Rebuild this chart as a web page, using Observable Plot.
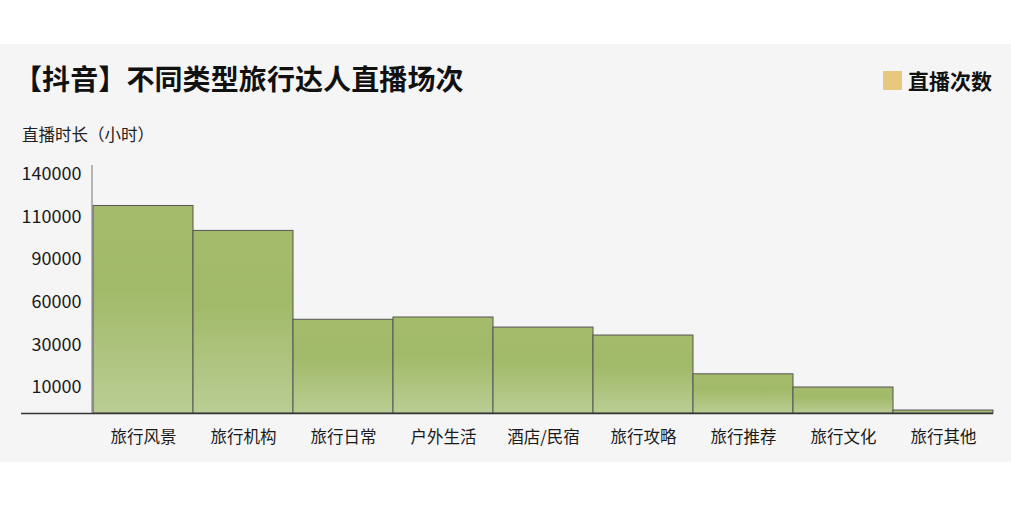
<!DOCTYPE html>
<html><head><meta charset="utf-8">
<script src="https://cdn.jsdelivr.net/npm/d3@7"></script>
<script src="https://cdn.jsdelivr.net/npm/@observablehq/plot@0.6"></script>
<style>
  html,body{margin:0;padding:0;background:#fff;}
  body{font-family:"Noto Sans CJK SC","Noto Sans",sans-serif;}
  #wrap{position:relative;width:1011px;height:505px;overflow:hidden;}
  #bg{position:absolute;left:0;top:44px;width:1011px;height:418px;background:#f5f5f5;}
  #title{position:absolute;left:14px;top:63px;font-size:28px;line-height:30px;font-weight:700;color:#111;white-space:nowrap;letter-spacing:0.1px;}
  #legend{position:absolute;left:883px;top:69px;display:flex;align-items:center;font-size:21px;font-weight:700;color:#111;line-height:22px;white-space:nowrap;}
  #legend .sw{width:19px;height:19px;background:#e8c87e;margin-right:6px;}
  #ylab{position:absolute;left:22px;top:125px;font-size:16.5px;line-height:18px;color:#222;white-space:nowrap;}
  #chart{position:absolute;left:0;top:150px;}
</style>
</head><body>
<div id="wrap">
  <div id="bg"></div>
  <div id="title">【抖音】不同类型旅行达人直播场次</div>
  <div id="legend"><div class="sw"></div><span>直播次数</span></div>
  <div id="ylab">直播时长（小时）</div>
  <div id="chart"></div>
</div>
<script>
const categories = ["旅行风景","旅行机构","旅行日常","户外生活","酒店/民宿","旅行攻略","旅行推荐","旅行文化","旅行其他"];
const values = [117800, 103500, 47700, 49300, 42200, 36600, 16200, 10000, 1150];
const tickValues = [10000, 30000, 60000, 90000, 110000, 140000];
const tickSteps = [0, 0.61, 1.61, 2.61, 3.61, 4.61, 5.61];

// The original axis is evenly spaced with irregular labels: map values piecewise.
const f = d3.scaleLinear().domain([0, ...tickValues]).range(tickSteps);
const data = categories.map((c, i) => ({category: c, value: values[i]}));

const chart = Plot.plot({
  width: 1011,
  height: 312,
  marginLeft: 92,
  marginRight: 18,
  marginTop: 15,
  marginBottom: 49,
  style: {background: "transparent", fontFamily: "'Noto Sans CJK SC', sans-serif", color: "#1a1a1a"},
  x: {type: "band", domain: categories, padding: 0, label: null},
  y: {domain: [0, 5.82], label: null},
  marks: [
    Plot.barY(data, {x: "category", y: d => f(d.value), fill: "url(#barGrad)", stroke: "#555", strokeWidth: 1}),
    Plot.ruleY([0], {stroke: "#333", strokeWidth: 1.5, insetLeft: -71}),
    Plot.axisX({tickSize: 0, tickPadding: 18, fontSize: 16.5, label: null}),
    Plot.axisY({ticks: tickValues.map(f), tickFormat: d => String(Math.round(f.invert(d))), tickSize: 0, tickPadding: 11, fontSize: 18, label: null})
  ]
});

const svg = d3.select(chart);
const defs = svg.insert("defs", ":first-child");
const g = defs.append("linearGradient").attr("id", "barGrad").attr("x1", 0).attr("y1", 0).attr("x2", 0).attr("y2", 1);
g.append("stop").attr("offset", "0%").attr("stop-color", "#a3bb6b");
g.append("stop").attr("offset", "40%").attr("stop-color", "#a1ba69");
g.append("stop").attr("offset", "100%").attr("stop-color", "#bacd93");

const xs = chart.scale("x"), ys = chart.scale("y");
svg.append("line")
  .attr("x1", xs.range[0]).attr("x2", xs.range[0])
  .attr("y1", ys.range[1]).attr("y2", ys.range[0])
  .attr("stroke", "#777").attr("stroke-width", 1);

document.getElementById("chart").appendChild(chart);
</script>
</body></html>
